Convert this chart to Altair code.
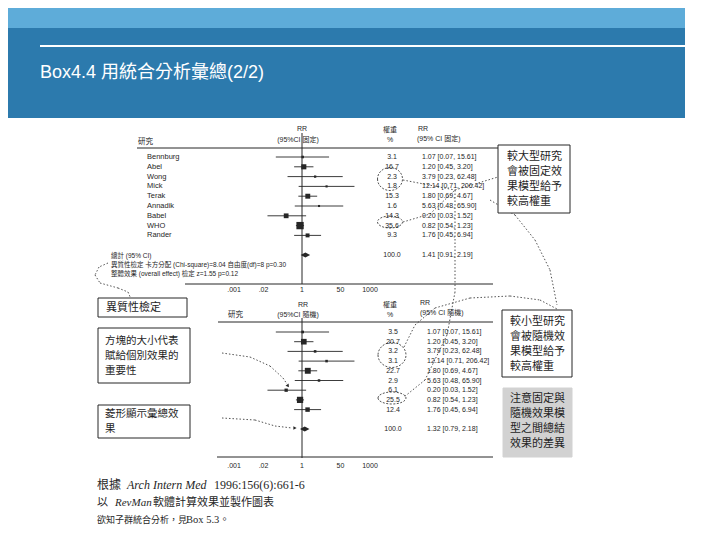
import altair as alt
import pandas as pd

# ---------------- data ----------------
studies = ["Bennburg", "Abel", "Wong", "Mick", "Terak", "Annadik", "Babel", "WHO", "Rander"]
rr = [1.07, 1.20, 3.79, 12.14, 1.80, 5.63, 0.20, 0.82, 1.76]
ci_low = [0.07, 0.45, 0.23, 0.71, 0.69, 0.48, 0.03, 0.54, 0.45]
ci_high = [15.61, 3.20, 62.48, 206.42, 4.67, 65.90, 1.52, 1.23, 6.94]
weight_fixed = [3.1, 16.7, 2.3, 1.8, 15.3, 1.6, 14.3, 35.6, 9.3]
weight_random = [3.5, 20.7, 3.2, 3.1, 22.7, 2.9, 6.1, 25.5, 12.4]
total_fixed = [1.41, 0.91, 2.19]
total_random = [1.32, 0.79, 2.18]
tick_values = [0.001, 0.02, 1, 50, 1000]
tick_labels = [".001", ".02", "1", "50", "1000"]

title_text = "Box4.4 用統合分析彙總(2/2)"
het_lines = ["總計 (95% CI)",
             "異質性檢定 卡方分配 (Chi-square)=8.04 自由度(df)=8 p=0.30",
             "整體效果 (overall effect) 檢定 z=1.55 p=0.12"]
box_fixed = ["較大型研究", "會被固定效", "果模型給予", "較高權重"]
box_random = ["較小型研究", "會被隨機效", "果模型給予", "較高權重"]
box_diff = ["注意固定與", "隨機效果模", "型之間總結", "效果的差異"]
box_het = ["異質性檢定"]
box_size = ["方塊的大小代表", "賦給個別效果的", "重要性"]
box_diamond = ["菱形顯示彙總效", "果"]

# ---------------- style / layout ----------------
INK = "#262626"
LAT = "Liberation Sans, Noto Sans CJK TC, sans-serif"
CJK = "Noto Sans CJK TC, sans-serif"
SERIF = "Liberation Serif, Noto Sans CJK TC, serif"
OFF = 8


def P(v):
    return v - OFF


dummy = pd.DataFrame({"k": [0]})


def rect(x1, y1, x2, y2, **style):
    return alt.Chart(dummy).mark_rect(**style).encode(
        x=alt.value(P(x1)), x2=alt.value(P(x2)), y=alt.value(P(y1)), y2=alt.value(P(y2)))


def seg(x1, y1, x2, y2, **style):
    return alt.Chart(dummy).mark_rule(**style).encode(
        x=alt.value(P(x1)), x2=alt.value(P(x2)), y=alt.value(P(y1)), y2=alt.value(P(y2)))


def polyline(points, **style):
    return [seg(a[0], a[1], b[0], b[1], **style) for a, b in zip(points[:-1], points[1:])]


def label(x, y, text, size=7.0, align="left", font=LAT, color=INK, **kw):
    return alt.Chart(dummy).mark_text(text=text, fontSize=size, align=align, baseline="middle",
                                      font=font, color=color, **kw).encode(
        x=alt.value(P(x)), y=alt.value(P(y)))


def ellipse(cx, cy, w, h):
    r = h / w
    shape = f"M -1 0 A 1 {r:.3f} 0 1 0 1 0 A 1 {r:.3f} 0 1 0 -1 0 Z"
    return alt.Chart(dummy).mark_point(shape=shape, size=w * w, filled=False, color=INK,
                                       strokeWidth=0.8, strokeDash=[2, 1.5], opacity=1).encode(
        x=alt.value(P(cx)), y=alt.value(P(cy)))


def arrow_head(x, y, angle):
    return alt.Chart(dummy).mark_point(shape="triangle-right", size=14, filled=True, color=INK,
                                       angle=angle, opacity=1).encode(
        x=alt.value(P(x)), y=alt.value(P(y)))


def text_box(x1, y1, x2, y2, lines, ys, tx, size, fill="white", stroke=INK):
    out = [rect(x1, y1, x2, y2, fill=fill, stroke=stroke, strokeWidth=1)]
    for t, yy in zip(lines, ys):
        out.append(label(tx, yy, t, size=size, font=CJK, color="#1e1e1e"))
    return out


xs = alt.Scale(type="log", domain=[0.001, 1000], range=[P(234), P(370)], nice=False)


def forest(weights, total, y_top, y_total, show_names, w_x, rr_x):
    rows = studies + ["_gap", "總計"]
    ys = alt.Scale(type="point", domain=rows, range=[P(y_top), P(y_total)], padding=0)
    df = pd.DataFrame({"row": studies, "rr": rr, "lo": ci_low, "hi": ci_high, "w": weights})
    tot = pd.DataFrame({"row": ["總計"], "rr": [total[0]], "lo": [total[1]],
                        "hi": [total[2]], "w": [100.0]})
    allrows = pd.concat([df, tot], ignore_index=True)
    allrows["w_txt"] = [f"{v:.1f}" for v in allrows["w"]]
    allrows["rr_txt"] = [f"{a:.2f} [{b:.2f}, {c:.2f}]"
                         for a, b, c in zip(allrows["rr"], allrows["lo"], allrows["hi"])]
    Y = alt.Y("row:N", scale=ys, axis=None)
    layers = [
        alt.Chart(df).mark_rule(color=INK, strokeWidth=0.9).encode(
            x=alt.X("lo:Q", scale=xs, axis=None), x2="hi:Q", y=Y),
        alt.Chart(df).mark_square(color=INK, opacity=1).encode(
            x=alt.X("rr:Q", scale=xs, axis=None), y=Y,
            size=alt.Size("w:Q", scale=alt.Scale(domain=[0, 40], range=[2, 60]), legend=None)),
        alt.Chart(tot).mark_point(shape="M -1 0 L 0 -0.55 L 1 0 L 0 0.55 Z", filled=True,
                                  color=INK, size=90, opacity=1).encode(
            x=alt.X("rr:Q", scale=xs, axis=None), y=Y),
        alt.Chart(allrows).mark_text(fontSize=7, align="center", font=LAT, color=INK).encode(
            x=alt.value(P(w_x)), y=Y, text="w_txt:N"),
        alt.Chart(allrows).mark_text(fontSize=7, align="left", font=LAT, color=INK).encode(
            x=alt.value(P(rr_x)), y=Y, text="rr_txt:N"),
    ]
    if show_names:
        layers.append(alt.Chart(df).mark_text(fontSize=7.5, align="left", font=LAT, color=INK).encode(
            x=alt.value(P(147)), y=Y, text="row:N"))
    return alt.layer(*layers)


ticks = pd.DataFrame({"v": tick_values, "lab": tick_labels})
one = pd.DataFrame({"v": [1.0]})


def tick_text(y):
    return alt.Chart(ticks).mark_text(fontSize=7, align="center", baseline="middle",
                                      font=LAT, color=INK).encode(
        x=alt.X("v:Q", scale=xs, axis=None), y=alt.value(P(y)), text="lab:N")


def null_line(y1, y2):
    return alt.Chart(one).mark_rule(color=INK, strokeWidth=1).encode(
        x=alt.X("v:Q", scale=xs, axis=None), y=alt.value(P(y1)), y2=alt.value(P(y2)))


layers = []
# header band
layers += [rect(8, 8, 685, 28, fill="#5eacd9"),
           rect(8, 28, 685, 118, fill="#2c7aad"),
           rect(40, 45, 685, 47, fill="white"),
           label(40, 73, title_text, size=18, color="white",
                 font="Liberation Sans Narrow, Liberation Sans, Noto Sans CJK TC")]

# ---- upper (fixed effect) forest plot ----
layers += [label(138, 142, "研究", 7.5),
           label(302, 129, "RR", 7, align="center"),
           label(298, 140, "(95%CI 固定)", 7, align="center"),
           label(390, 130, "權重", 7, align="center"),
           label(390, 140, "%", 7, align="center"),
           label(418, 129, "RR", 7),
           label(417, 139, "(95% CI 固定)", 7),
           seg(137, 148, 498, 148, color=INK, strokeWidth=1),
           null_line(133, 284),
           seg(185, 284, 493, 284, color=INK, strokeWidth=1),
           tick_text(290)]
layers.append(forest(weight_fixed, total_fixed, 157, 255, True, 392, 422))
for t, yy in zip(het_lines, [256, 265, 274]):
    layers.append(label(111, yy, t, 6.5))

# ---- lower (random effects) forest plot ----
layers += [label(228, 315, "研究", 7.5),
           label(303, 305, "RR", 7, align="center"),
           label(298, 315, "(95%CI 隨機)", 7, align="center"),
           label(390, 305, "權重", 7, align="center"),
           label(390, 315, "%", 7, align="center"),
           label(420, 303, "RR", 7),
           label(420, 313, "(95% CI 隨機)", 7),
           seg(218, 322, 493, 322, color=INK, strokeWidth=1),
           null_line(318, 458),
           seg(217, 457, 493, 457, color=INK, strokeWidth=1),
           tick_text(466)]
layers.append(forest(weight_random, total_random, 332, 429, False, 393, 427))

# ---- ellipses and dotted connectors ----
layers += [ellipse(390, 179, 25, 23), ellipse(390, 222, 25, 12),
           ellipse(392, 355, 28, 25), ellipse(392, 398, 28, 12)]
dot = dict(color=INK, strokeWidth=0.8, strokeDash=[1.5, 2])
for pts in [
    [(108, 263), (99, 267), (95, 275), (100, 283), (118, 288), (128, 292), (131, 299)],
    [(403, 180), (455, 190), (498, 177)],
    [(403, 222), (430, 214), (455, 190)],
    [(455, 190), (455, 292), (447, 335), (425, 380), (404, 397)],
    [(404, 347), (415, 325), (435, 308), (470, 298), (510, 296), (540, 300), (557, 309)],
    [(490, 200), (515, 215), (535, 240), (550, 270), (557, 305)],
    [(222, 353), (250, 357), (270, 366), (283, 378), (287, 384)],
    [(222, 418), (255, 420), (275, 426), (292, 428)],
]:
    layers += polyline(pts, **dot)
layers += [arrow_head(288, 386, 55), arrow_head(295, 428, 0)]

# ---- annotation boxes ----
layers += text_box(498, 145, 570, 213, box_fixed, [157, 172, 187, 202], 507, 11)
layers += text_box(502, 310, 572, 377, box_random, [322, 337, 352, 367], 510, 11)
layers += text_box(503, 388, 572, 457, box_diff, [399, 414, 429, 444], 510, 11,
                   fill="#d2d2d2", stroke="#d2d2d2")
layers += text_box(98, 298, 187, 317, box_het, [308], 106, 11)
layers += text_box(98, 328, 190, 383, box_size, [341, 356, 371], 105, 10.5)
layers += text_box(98, 405, 190, 438, box_diamond, [414, 429], 105, 10.5)

# ---- footer citation ----
layers += [label(97, 485, "根據", 12, font=CJK),
           label(127, 485, "Arch Intern Med", 12, font=SERIF, fontStyle="italic"),
           label(214, 485, "1996:156(6):661-6", 12, font=SERIF),
           label(97, 503, "以", 11, font=CJK),
           label(115, 503, "RevMan", 11, font=SERIF, fontStyle="italic"),
           label(153, 503, "軟體計算效果並製作圖表", 11, font=CJK),
           label(97, 520, "欲知子群統合分析，見", 9, font=CJK),
           label(186, 520, "Box 5.3。", 10.5, font=SERIF)]

chart = alt.layer(*layers).resolve_scale(y="independent").properties(
    width=704, height=524, padding=0, autosize=alt.AutoSizeParams(type="none"),
    background="white"
).configure_view(stroke=None)

chart.save("out.html", embed_options={"renderer": "svg", "actions": False})
